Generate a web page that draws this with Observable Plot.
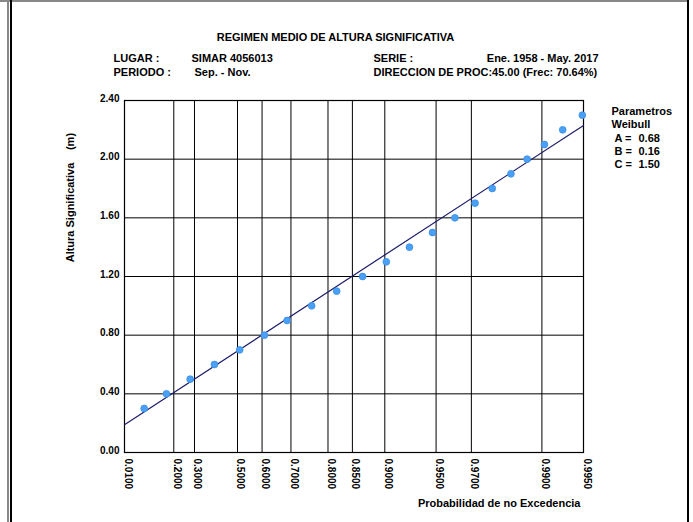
<!DOCTYPE html>
<html>
<head>
<meta charset="utf-8">
<script src="https://cdn.jsdelivr.net/npm/d3@7"></script>
<script src="https://cdn.jsdelivr.net/npm/@observablehq/plot@0.6"></script>
<style>
  html, body { margin: 0; padding: 0; background: #fff; }
  #wrap { position: relative; width: 693px; height: 522px; overflow: hidden; font-family: "Liberation Sans", Arial, sans-serif; }
  .deco { position: absolute; }
</style>
</head>
<body>
<div id="wrap">
  <div class="deco" style="left:0;top:0;width:688px;height:1.5px;background:#888;"></div>
  <div class="deco" style="left:7px;top:0;width:2px;height:522px;background:#888;"></div>
  <div class="deco" style="left:10px;top:0;width:1.5px;height:522px;background:#000;"></div>
  <div class="deco" style="left:687px;top:0;width:1.5px;height:522px;background:#000;"></div>
  <div id="chart"></div>
</div>
<script>
// ---- data ----
const heights = [0.3, 0.4, 0.5, 0.6, 0.7, 0.8, 0.9, 1.0, 1.1, 1.2, 1.3, 1.4, 1.5, 1.6, 1.7, 1.8, 1.9, 2.0, 2.1, 2.2, 2.3];
const probs = [0.0705, 0.1657, 0.2789, 0.3956, 0.5096, 0.6089, 0.6878, 0.7597, 0.8191, 0.8676, 0.9019, 0.9278, 0.9474, 0.9618, 0.9716, 0.9781, 0.9836, 0.9873, 0.9904, 0.9929, 0.9949];
const xTickProbs = [0.01, 0.2, 0.3, 0.5, 0.6, 0.7, 0.8, 0.85, 0.9, 0.95, 0.97, 0.99, 0.995];
const xTickLabels = ["0.0100", "0.2000", "0.3000", "0.5000", "0.6000", "0.7000", "0.8000", "0.8500", "0.9000", "0.9500", "0.9700", "0.9900", "0.9950"];
const yTicks = [0, 0.4, 0.8, 1.2, 1.6, 2.0, 2.4];
const fitProbs = [0.01, 0.995];
const fitHeights = [0.19, 2.23];
const paramNames = ["A =", "B =", "C ="];
const paramValues = [0.68, 0.16, 1.50];
const headerLeft = [["LUGAR :", "SIMAR 4056013"], ["PERIODO :", "Sep. - Nov."]];
const headerRight = [["SERIE :", "Ene. 1958 - May. 2017"], ["DIRECCION DE PROC:45.00 (Frec: 70.64%)", ""]];

// Weibull probability paper: position = (-ln(1-p))^(1/C)
const shapeC = paramValues[2];
const wx = p => Math.pow(-Math.log(1 - p), 1 / shapeC);

const points = heights.map((h, i) => ({p: probs[i], h}));
const fit = fitProbs.map((p, i) => ({p, h: fitHeights[i]}));
const xTicks = xTickProbs.map((p, i) => ({p, label: xTickLabels[i]}));

const FL = 124, FT = 100; // frame top-left (from margins)
const font = {fontWeight: "bold", fill: "#000"};
function txt(str, x, y, o = {}) {
  return Plot.text([str], {text: d => d, frameAnchor: "top-left", dx: x - FL, dy: y - FT,
    lineAnchor: "bottom", textAnchor: "start", fontSize: 11, ...font, ...o});
}

const chart = Plot.plot({
  width: 693,
  height: 522,
  marginLeft: FL,
  marginRight: 110,
  marginTop: FT,
  marginBottom: 70,
  style: {fontFamily: '"Liberation Sans", Arial, sans-serif', background: "transparent", overflow: "visible"},
  x: {type: "linear", domain: [wx(xTickProbs[0]), wx(xTickProbs[xTickProbs.length - 1])], axis: null},
  y: {type: "linear", domain: [0, 2.4], axis: null},
  marks: [
    Plot.ruleX(xTicks, {x: d => wx(d.p), stroke: "#000", strokeWidth: 1}),
    Plot.ruleY(yTicks, {y: d => d, stroke: "#000", strokeWidth: 1}),
    Plot.frame({stroke: "#000", strokeWidth: 1.2}),
    Plot.text(yTicks, {y: d => d, text: d => d.toFixed(2), frameAnchor: "left", textAnchor: "end",
      lineAnchor: "bottom", dx: -5, dy: 1, fontSize: 10, ...font}),
    Plot.text(xTicks, {x: d => wx(d.p), text: "label", frameAnchor: "bottom", rotate: 90, textAnchor: "start",
      lineAnchor: "bottom", dy: 6, fontSize: 10, ...font}),
    Plot.line(fit, {x: d => wx(d.p), y: "h", stroke: "#1c1c6b", strokeWidth: 1.2}),
    Plot.dot(points, {x: d => wx(d.p), y: "h", r: 3.4, fill: "#4aa0f5", stroke: "#3b8fe6", strokeWidth: 0.8}),
    // header
    txt("REGIMEN MEDIO DE ALTURA SIGNIFICATIVA", 335, 40, {textAnchor: "middle"}),
    txt(headerLeft[0][0], 113, 61),
    txt(headerLeft[0][1], 191, 61),
    txt(headerLeft[1][0], 113, 75),
    txt(headerLeft[1][1], 194, 75),
    txt(headerRight[0][0], 373, 61),
    txt(headerRight[0][1], 598, 61, {textAnchor: "end"}),
    txt(headerRight[1][0], 373, 75),
    // axis titles
    txt("Altura Significativa", 73, 212, {rotate: -90, textAnchor: "middle"}),
    txt("(m)", 73, 141, {rotate: -90, textAnchor: "middle"}),
    txt("Probabilidad de no Excedencia", 580, 506, {textAnchor: "end"}),
    // parameters
    txt("Parametros", 611, 114),
    txt("Weibull", 611, 127),
    ...paramNames.map((n, i) => txt(n, 614, 141 + i * 13)),
    ...paramValues.map((v, i) => txt(v.toFixed(2), 638, 141 + i * 13))
  ]
});
document.getElementById("chart").appendChild(chart);
</script>
</body>
</html>
